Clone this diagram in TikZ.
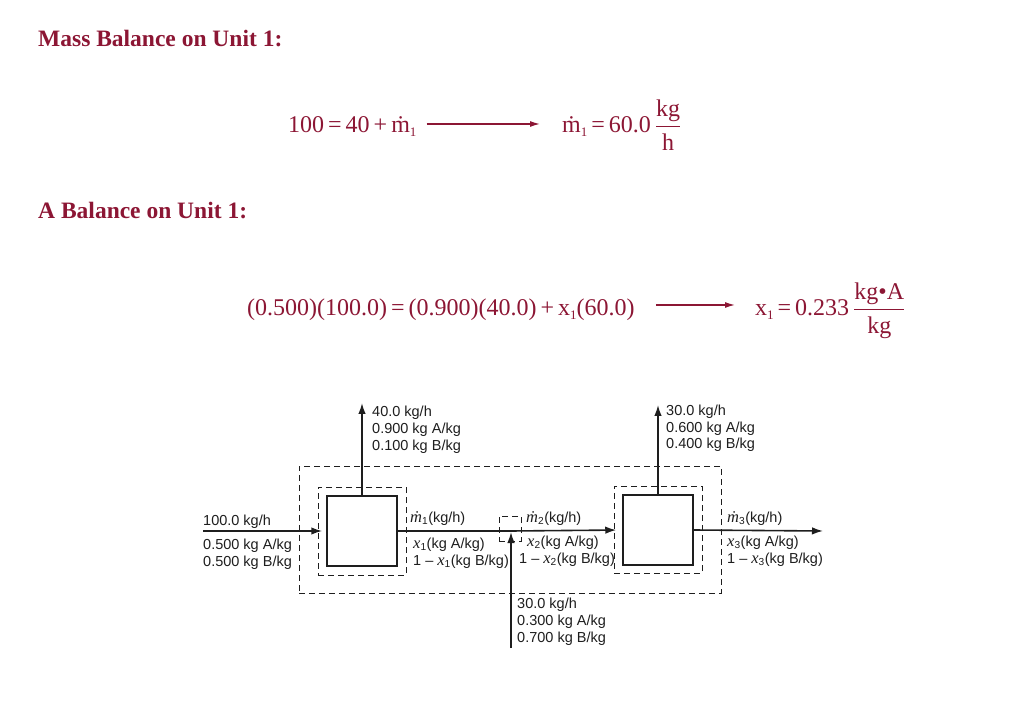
\documentclass[tikz,border=0pt]{standalone}
\usepackage{fontspec}
\usepackage{amsmath}
\usepackage{graphicx}
\setmainfont{Liberation Serif}
\setsansfont{Liberation Sans}
\usetikzlibrary{arrows.meta,positioning}
\definecolor{maroon}{RGB}{140,22,52}
\definecolor{ink}{RGB}{30,30,30}
\newcommand{\lowidx}[1]{\raisebox{-0.35ex}{\fontsize{13}{13}\selectfont #1}}
\newcommand{\mflow}[1]{{\rmfamily\itshape\fontsize{16.5}{16.8}\selectfont\.m}\textsubscript{#1}}
\newcommand{\xmass}[1]{{\rmfamily\itshape\fontsize{16.5}{16.8}\selectfont x}\textsubscript{#1}}
\tikzset{
  heading/.style={anchor=base west, inner sep=0pt, font=\fontsize{23.5}{28}\selectfont\bfseries, text=maroon},
  eqn/.style={anchor=base west, inner sep=0pt, font=\fontsize{24}{28}\selectfont, text=maroon},
  eqline/.style={-{Latex[length=10pt,width=6pt]}, line width=1.3pt, draw=maroon},
  unit/.style={rectangle, draw=ink, line width=1.5pt, minimum size=70pt, inner sep=0pt},
  envelope/.style={rectangle, draw=ink, dash pattern=on 6pt off 4pt, line width=1pt, inner sep=0pt},
  stream/.style={-{Latex[length=11pt,width=7.5pt]}, line width=1.6pt, draw=ink},
  pipe/.style={line width=1.6pt, draw=ink},
  tag/.style={anchor=base west, inner sep=0pt, align=left, font=\sffamily\fontsize{14.5}{16.8}\selectfont, text=ink}
}
\begin{document}
\begin{tikzpicture}[x=1pt, y=-1pt]
  \useasboundingbox (0,0) rectangle (1023,708);
  % worked balances
  \node[heading] (head1) at (38,47) {Mass Balance on Unit 1:};
  \node[eqn] (mbal) at (288,133) {100\,=\,40\,+\,\.m\lowidx{1}};
  \node[eqn] (mres) at (562,133) {\.m\lowidx{1}\,=\,60.0\,$\dfrac{\text{kg}}{\text{h}}$};
  \draw[eqline] ([shift={(10pt,9pt)}]mbal.base east) -- ([shift={(-22pt,9pt)}]mres.base west);
  \node[heading] (head2) at (38,219) {A Balance on Unit 1:};
  \node[eqn] (xbal) at (247,316) {(0.500)(100.0)\,=\,(0.900)(40.0)\,+\,x\lowidx{1}(60.0)};
  \node[eqn] (xres) at (755,316) {x\lowidx{1}\,=\,0.233\,$\dfrac{\text{kg•A}}{\text{kg}}$};
  \draw[eqline] ([shift={(21pt,11pt)}]xbal.base east) -- ([shift={(-20pt,11pt)}]xres.base west);
  % flowchart
  \node[envelope, minimum width=422pt, minimum height=127pt] (envall) at (510,529.5) {};
  \node[envelope, minimum width=88pt, minimum height=88pt] (env1) at (362,531) {};
  \node[envelope, minimum width=88pt, minimum height=87pt] (env2) at (658,529.5) {};
  \node[envelope, minimum width=22pt, minimum height=25pt] (envmix) at (510,528.5) {};
  \node[unit] (u1) at (362,531) {};
  \node[unit] (u2) at (658,530) {};
  \coordinate (feed) at (203,531);
  \coordinate (mix) at (511,531);
  \coordinate (fresh) at (511,648);
  \coordinate (top1) at (362,403);
  \coordinate (top2) at (658,405);
  \coordinate (prod) at (823,531);
  \draw[stream, shorten >=4pt] (feed) -- (u1.west);
  \draw[pipe] (u1.east) -- (mix);
  \draw[stream, shorten >=6pt] (mix) -- (u2.west);
  \draw[stream] (u1.north) -- (top1);
  \draw[stream] (u2.north) -- (top2);
  \draw[stream] (u2.east) -- (prod);
  \draw[stream, shorten >=1pt] (fresh) -- (mix);
  % stream labels (base = last line)
  \node[tag] (lfeed) at (203,525) {100.0 kg/h};
  \node[tag] (lfeedx) at (203,566) {0.500 kg A/kg\\0.500 kg B/kg};
  \node[tag] (ltop1) at (372,450) {40.0 kg/h\\0.900 kg A/kg\\0.100 kg B/kg};
  \node[tag] (ltop2) at (666,449) {30.0 kg/h\\0.600 kg A/kg\\0.400 kg B/kg};
  \node[tag] (lfresh) at (517,642) {30.0 kg/h\\0.300 kg A/kg\\0.700 kg B/kg};
  \node[tag] (lm1) at (410,522) {\mflow{1}(kg/h)};
  \node[tag] (lx1) at (413,565) {\xmass{1}(kg A/kg)\\1 -- \xmass{1}(kg B/kg)};
  \node[tag] (lm2) at (526,522) {\mflow{2}(kg/h)};
  \node[tag] (lx2) at (527,546) {\xmass{2}(kg A/kg)};
  \node[tag] (ly2) at (519,563) {1 -- \xmass{2}(kg B/kg)};
  \node[tag] (lm3) at (727,522) {\mflow{3}(kg/h)};
  \node[tag] (lx3) at (727,563) {\xmass{3}(kg A/kg)\\1 -- \xmass{3}(kg B/kg)};
\end{tikzpicture}
\end{document}
